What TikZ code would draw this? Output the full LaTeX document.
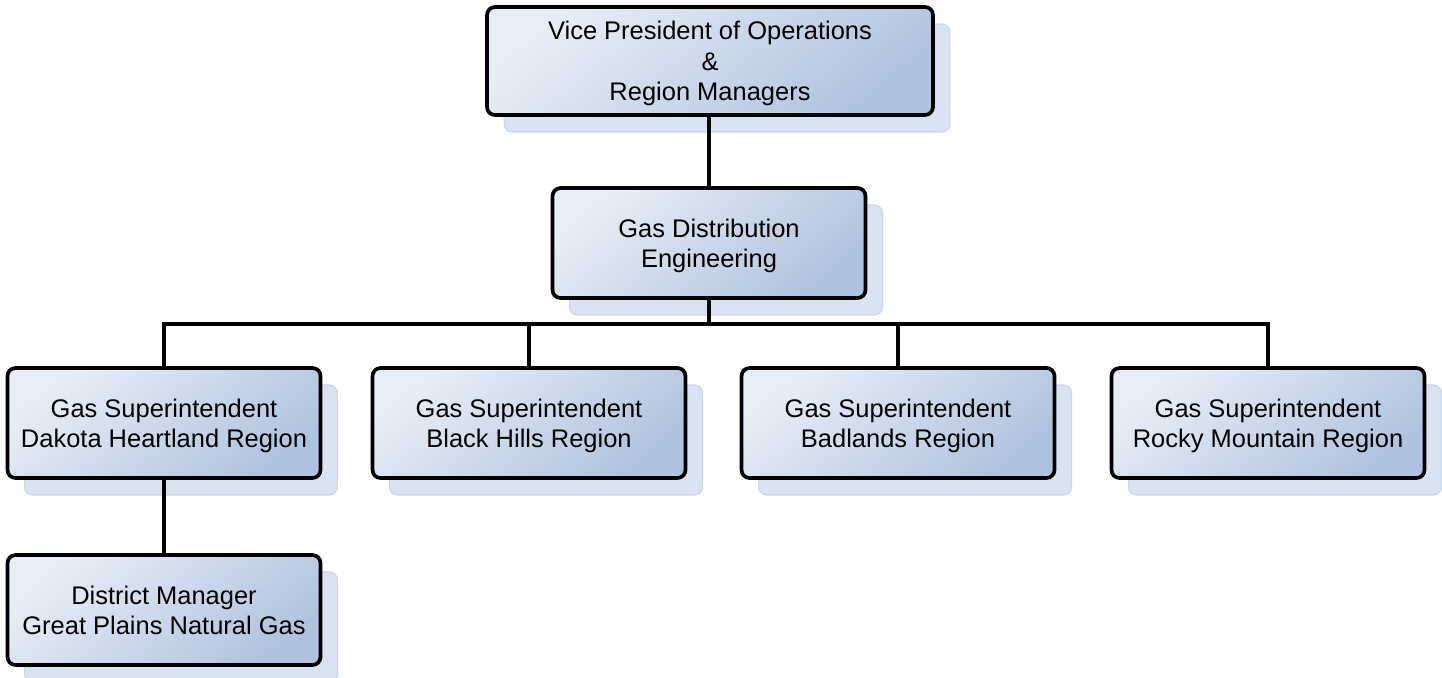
\documentclass[tikz,border=0pt]{standalone}
\usepackage{fontspec}
\setmainfont{Liberation Sans}
\usepackage{xcolor}
\usepackage{tikz}
\usetikzlibrary{positioning, shadows}
\definecolor{boxLight}{HTML}{E8EEF7}
\definecolor{boxDark}{HTML}{B0C3DE}
\definecolor{shadowFill}{HTML}{DAE3F1}
\definecolor{shadowEdge}{HTML}{C8D5EA}

\begin{document}
\begin{tikzpicture}[x=0.02cm, y=-0.02cm,
    orgbox/.style={rectangle, rounded corners=1.6mm, draw=black, line width=2.1pt,
                   left color=boxLight, right color=boxDark, shading angle=40,
                   align=center, inner sep=0pt, text depth=0pt,
                   minimum width=6.26cm, minimum height=2.2cm,
                   font=\fontsize{14.5}{17.3}\selectfont,
                   drop shadow={shadow xshift=0.34cm, shadow yshift=-0.34cm, opacity=1,
                                fill=shadowFill, draw=shadowEdge, line width=0.6pt}},
    link/.style={draw=black, line width=1.9pt}]
  \useasboundingbox (0,0) rectangle (1442,677);
  % top of the chart
  \node[orgbox, minimum width=8.92cm, minimum height=2.16cm] (vp) at (710,61)
    {Vice President of Operations\\\&\\Region Managers};
  \node[orgbox, minimum width=6.26cm] (gde) at (709,243)
    {Gas Distribution\\Engineering};
  % regions
  \node[orgbox] (dakota) at (164,423) {Gas Superintendent\\Dakota Heartland Region};
  \node[orgbox] (blackhills) at (529,423) {Gas Superintendent\\Black Hills Region};
  \node[orgbox] (badlands) at (898,423) {Gas Superintendent\\Badlands Region};
  \node[orgbox] (rocky) at (1268,423) {Gas Superintendent\\Rocky Mountain Region};
  \node[orgbox] (district) at (164,610) {District Manager\\Great Plains Natural Gas};
  \coordinate (bus) at (709,324);
  % connectors
  \draw[link] (vp.south -| bus) -- (gde.north -| bus);
  \draw[link] (gde.south -| bus) -- (bus);
  \foreach \r in {dakota, blackhills, badlands, rocky}
    { \draw[link] (bus) -| (\r.north); }
  \draw[link] (dakota) -- (district);
\end{tikzpicture}
\end{document}
